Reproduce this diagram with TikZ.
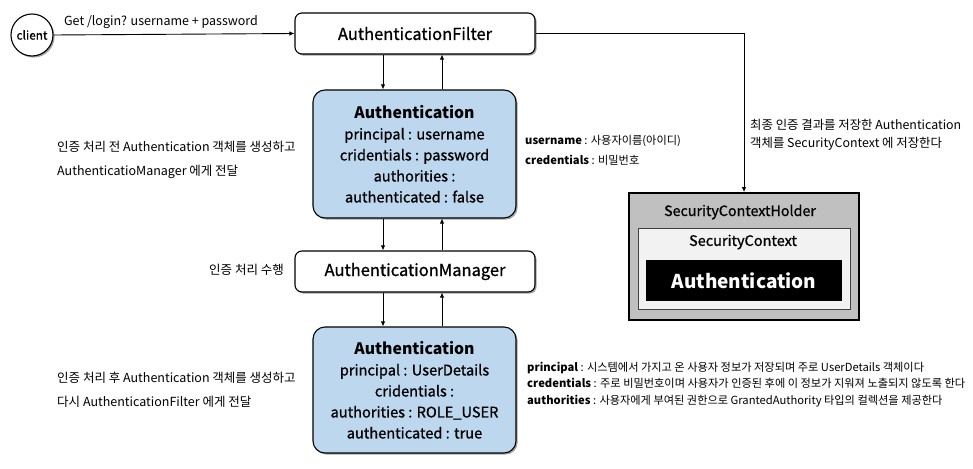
\documentclass[tikz,border=0pt]{standalone}
\usepackage{fontspec}
\setmainfont{Noto Sans CJK KR}
\newfontfamily\medfont{Noto Sans CJK KR}[FakeBold=0.9]
\usetikzlibrary{arrows.meta,shadows}
\begin{document}
\begin{tikzpicture}[x=1pt,y=-1pt,
  shad/.style={drop shadow={shadow xshift=1.6pt,shadow yshift=-1.6pt,fill=black!45,opacity=0.8}},
  wbox/.style={draw=black,line width=1.1pt,rounded corners=7pt,fill=white,shad,
    minimum width=240pt,minimum height=41pt,inner sep=0pt,font=\medfont\fontsize{16.5}{18}\selectfont},
  bbox/.style={draw=black,line width=1.1pt,rounded corners=12pt,fill=authblue,shad,
    minimum width=203pt,inner sep=0pt,align=center,font=\medfont\fontsize{14.6}{21}\selectfont},
  ttl/.style={font=\rmfamily\bfseries\fontsize{15.8}{22}\selectfont},
  arr/.style={-{Latex[length=5pt,width=4.5pt]},line width=0.9pt},
  note/.style={anchor=west,inner sep=0pt,font=\fontsize{12.5}{24}\selectfont,align=left},
  snote/.style={anchor=west,inner sep=0pt,font=\fontsize{11.2}{16.5}\selectfont,align=left}]
\definecolor{authblue}{HTML}{BDD7EE}
\definecolor{holdergray}{HTML}{C0C0C0}
\definecolor{ctxgray}{HTML}{F2F2F2}
\useasboundingbox (0,0) rectangle (973,468);

\coordinate (xl) at (383,0);
\coordinate (xr) at (442,0);

\node[draw,circle,line width=1.1pt,fill=white,shad,minimum size=42pt,inner sep=0pt,
  font=\medfont\fontsize{11.8}{14}\selectfont] (client) at (32,35) {client};

\node[wbox] (filter) at (415,33.5) {AuthenticationFilter};

\node[bbox,minimum height=128pt] (auth1) at (414.5,154)
  {{\rmfamily\bfseries\fontsize{15.8}{22}\selectfont Authentication}\\
   principal : username\\ cridentials : password\\ authorities :\\ authenticated : false};

\node[wbox] (mgr) at (415,271.5) {AuthenticationManager};

\node[bbox,minimum height=126pt] (auth2) at (414.5,390)
  {{\rmfamily\bfseries\fontsize{15.8}{22}\selectfont Authentication}\\
   principal : UserDetails\\ cridentials :\\ authorities : ROLE\_USER\\ authenticated : true};

% SecurityContextHolder
\node[draw=black,line width=1.8pt,fill=holdergray,minimum width=230pt,minimum height=127pt,
  inner sep=0pt] (holder) at (744,256.5) {};
\node[font=\medfont\fontsize{14.3}{16}\selectfont,inner sep=0pt] (holdert) at (740,212) {SecurityContextHolder};
\node[draw=black!75,line width=1pt,fill=ctxgray,minimum width=212pt,minimum height=81pt,
  inner sep=0pt] (ctx) at (744,268.5) {};
\node[font=\medfont\fontsize{14.5}{16}\selectfont,inner sep=0pt] (ctxt) at (743,242) {SecurityContext};
\node[fill=black,text=white,minimum width=196pt,minimum height=41pt,inner sep=0pt,
  font=\fontsize{19}{24}\selectfont\bfseries] (authb) at (744,280.5) {Authentication};

% connectors
\draw[arr] (client.east) -- (filter.west);
\node[inner sep=0pt,font=\fontsize{12.5}{14}\selectfont] (getlbl) at (161,22) {Get /login? username + password};
\draw[arr] (filter.south -| xl) -- (auth1.north -| xl);
\draw[arr] (auth1.north -| xr) -- (filter.south -| xr);
\draw[arr] (auth1.south -| xl) -- (mgr.north -| xl);
\draw[arr] (mgr.north -| xr) -- (auth1.south -| xr);
\draw[arr] (mgr.south -| xl) -- (auth2.north -| xl);
\draw[arr] (auth2.north -| xr) -- (mgr.south -| xr);
\draw[arr] (filter.east) -| (holder.north);

% notes
\node[note] (n1) at (57,160) {인증 처리 전 Authentication 객체를 생성하고\\AuthenticatioManager 에게 전달};
\node[note,anchor=east] (n2) at (284,270) {인증 처리 수행};
\node[note] (n3) at (57,390) {인증 처리 후 Authentication 객체를 생성하고\\다시 AuthenticationFilter 에게 전달};
\node[snote,font=\fontsize{11.2}{20}\selectfont] (n4) at (525,150) {\textbf{username} : 사용자이름(아이디)\\\textbf{credentials} : 비밀번호};
\node[note,font=\fontsize{12.4}{18}\selectfont] (n5) at (750,135) {최종 인증 결과를 저장한 Authentication\\객체를 SecurityContext 에 저장한다};
\node[snote] (n6) at (527,384.5) {\textbf{principal} : 시스템에서 가지고 온 사용자 정보가 저장되며 주로 UserDetails 객체이다\\
  \textbf{credentials} : 주로 비밀번호이며 사용자가 인증된 후에 이 정보가 지워져 노출되지 않도록 한다\\
  \textbf{authorities} : 사용자에게 부여된 권한으로 GrantedAuthority 타입의 컬렉션을 제공한다};
\end{tikzpicture}
\end{document}
